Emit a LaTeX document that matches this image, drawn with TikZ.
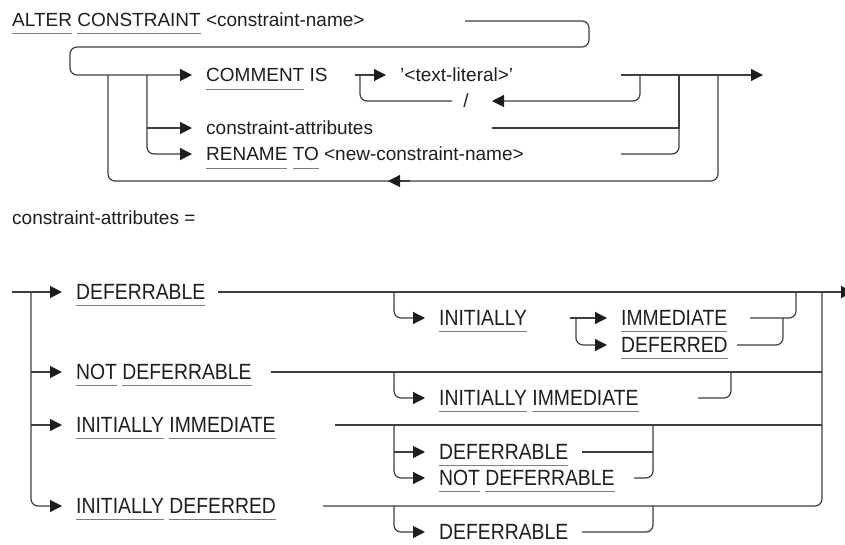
\documentclass[tikz,border=0pt]{standalone}
\usepackage{fontspec}
\setmainfont{Liberation Sans}
\newfontfamily\condfont[FakeStretch=0.88]{Liberation Sans}
\usetikzlibrary{arrows.meta, calc}
\definecolor{railgray}{RGB}{62,62,62}
\definecolor{ulgray}{RGB}{125,125,125}
\definecolor{ink}{RGB}{30,30,30}
\newlength\kwdrop
\newsavebox\kwbox
\newcommand\kw[1]{\sbox\kwbox{#1}\rlap{\textcolor{ulgray}{\rule[-\kwdrop]{\wd\kwbox}{1.3pt}}}\usebox\kwbox}
\tikzset{
    rail/.style={draw=railgray, line width=1.2pt},
    railarrow/.style={rail, -{Triangle[length=12pt, width=12pt, color=ink]}},
    railbend/.style={rounded corners=7pt},
}

\begin{document}
\begin{tikzpicture}[
    x=1pt, y=-1pt,
    toptext/.style={anchor=west, inner xsep=14pt, inner ysep=0pt, text height=13.6pt, text depth=0pt, text=ink, font=\fontsize{19}{22}\selectfont\setlength\kwdrop{8pt}},
    lowtext/.style={toptext, text height=15.7pt, font=\condfont\fontsize{22}{26}\selectfont\setlength\kwdrop{6.3pt}},
    headtext/.style={toptext, inner xsep=0pt},
]
\useasboundingbox (0,0) rectangle (845,544);

% ALTER CONSTRAINT statement
\node[headtext] (title) at (12,19.5) {\kw{ALTER} \kw{CONSTRAINT} <constraint-name>};
\coordinate (tstart) at (465,21);
\coordinate (tturn) at (589,47);
\coordinate (tback) at (70,47);

\node[toptext] (cmt) at (192,75) {\kw{COMMENT} IS};
\node[toptext] (cattr) at (192,128) {constraint-attributes};
\node[toptext] (ren) at (192,154) {\kw{RENAME} \kw{TO} <new-constraint-name>};

\draw[railarrow, railbend] (tstart) -| (tturn) -- (tback) |- (cmt.west);

% choice column and loop back
\coordinate (jloop) at (108,75);
\coordinate (jopt) at (147,75);
\draw[railarrow] (jopt |- cattr.west) -- (cattr.west);
\draw[railarrow, railbend] (jopt) |- (ren.west);

\coordinate (ret) at (410,181);
\coordinate (rettip) at (388,181);
\coordinate (rloop) at (718,75);
\draw[rail, railbend] (jloop) |- (ret) -| (rloop);
\draw[railarrow] (ret) -- (rettip);

% COMMENT IS: text literals separated by /
\coordinate (cfrom) at (355,75);
\coordinate (cjoin) at (360,75);
\node[toptext] (lit) at (386,75) {'<text-literal>'};
\node[toptext, inner xsep=0pt, anchor=center] (slash) at (466,101) {/};
\draw[railarrow] (cfrom) -- (lit.west);

\coordinate (sright) at (492,101);
\coordinate (sleft) at (452,101);
\coordinate (rlit) at (640,75);
\draw[railarrow, railbend] (rlit) |- (sright);
\draw[rail, railbend] (sleft) -| (cjoin);

% right side merges
\coordinate (lend) at (621,75);
\coordinate (exit) at (763,75);
\coordinate (jattr) at (679,75);
\draw[railarrow] (lend) -- (exit);
\coordinate (caend) at (492,128);
\draw[rail] (caend) -| (jattr);
\coordinate (rnend) at (621,154);
\draw[rail, railbend] (rnend) -| (jattr);

% constraint-attributes definition
\node[headtext] (attrdef) at (12,218) {constraint-attributes =};

\coordinate (lin) at (12,292);
\coordinate (lsplit) at (31,292);
\node[lowtext] (dfr) at (62,292) {\kw{DEFERRABLE}};
\node[lowtext] (ndfr) at (62,372) {\kw{NOT} \kw{DEFERRABLE}};
\node[lowtext] (iim) at (62,425) {\kw{INITIALLY} \kw{IMMEDIATE}};
\node[lowtext] (idf) at (62,506) {\kw{INITIALLY} \kw{DEFERRED}};
\draw[railarrow] (lin) -- (dfr.west);
\draw[railarrow] (lsplit |- ndfr.west) -- (ndfr.west);
\draw[railarrow] (lsplit |- iim.west) -- (iim.west);
\draw[railarrow, railbend] (lsplit) |- (idf.west);

% main rows to the exit
\coordinate (r1a) at (218,292);
\coordinate (lout) at (853,292);
\coordinate (lmerge) at (822,292);
\draw[railarrow] (r1a) -- (lout);
\coordinate (r2a) at (271,372);
\draw[rail] (r2a) -- (r2a -| lmerge);
\coordinate (r3a) at (335,425);
\draw[rail] (r3a) -- (r3a -| lmerge);
\coordinate (r4a) at (323,506);
\draw[rail, railbend] (r4a) -| (lmerge);

% optional second parts
\coordinate (ksplit) at (394,292);
\node[lowtext] (ini) at (425,318) {\kw{INITIALLY}};
\node[lowtext] (ini2) at (425,398) {\kw{INITIALLY} \kw{IMMEDIATE}};
\node[lowtext] (opt1) at (425,452) {\kw{DEFERRABLE}};
\node[lowtext] (opt2) at (425,478) {\kw{NOT} \kw{DEFERRABLE}};
\node[lowtext] (opt3) at (425,532) {\kw{DEFERRABLE}};
\draw[railarrow, railbend] (ksplit) |- (ini.west);
\draw[railarrow, railbend] (ksplit |- r2a) |- (ini2.west);
\draw[railarrow] (ksplit |- opt1.west) -- (opt1.west);
\draw[railarrow, railbend] (ksplit |- r3a) |- (opt2.west);
\draw[railarrow, railbend] (ksplit |- r4a) |- (opt3.west);

% INITIALLY IMMEDIATE | DEFERRED
\coordinate (ia) at (570,318);
\coordinate (isplit) at (576,318);
\node[lowtext] (imm) at (607,318) {\kw{IMMEDIATE}};
\node[lowtext] (dfd) at (607,345) {\kw{DEFERRED}};
\draw[railarrow] (ia) -- (imm.west);
\draw[railarrow, railbend] (isplit) |- (dfd.west);
\coordinate (imend) at (750,318);
\coordinate (imjoin) at (796,292);
\draw[rail, railbend] (imend) -| (imjoin);
\coordinate (dfend) at (737,345);
\coordinate (dfjoin) at (783,318);
\draw[rail, railbend] (dfend) -| (dfjoin);

% joins back to each row
\coordinate (i2end) at (698,398);
\coordinate (i2join) at (731,372);
\draw[rail, railbend] (i2end) -| (i2join);
\coordinate (o1end) at (582,452);
\coordinate (ojoin) at (653,425);
\draw[rail] (o1end) -- (o1end -| ojoin);
\coordinate (o2end) at (634,478);
\draw[rail, railbend] (o2end) -| (ojoin);
\coordinate (o3end) at (582,532);
\coordinate (o3join) at (653,506);
\draw[rail, railbend] (o3end) -| (o3join);

\end{tikzpicture}
\end{document}
